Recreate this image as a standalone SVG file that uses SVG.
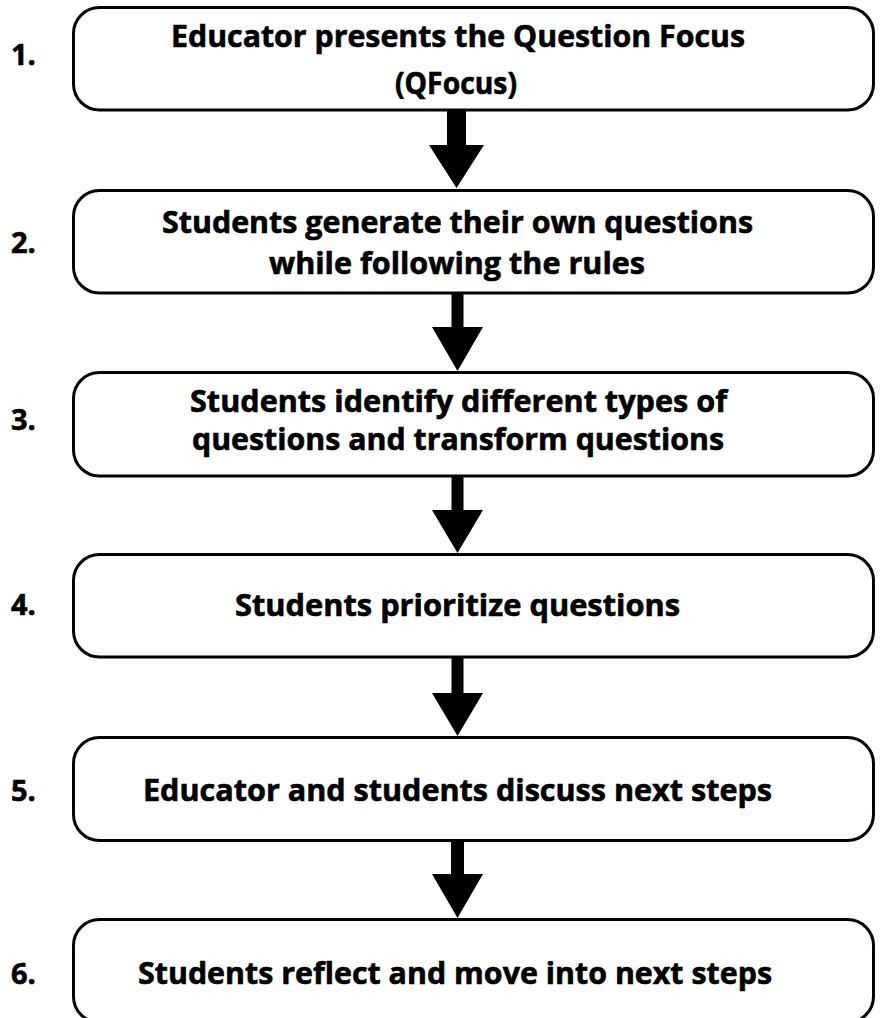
<svg xmlns="http://www.w3.org/2000/svg" width="880" height="1018" viewBox="0 0 880 1018">
  <style>
    .box { fill: #ffffff; stroke: #000000; stroke-width: 3; }
    .label { font-family: "Open Sans", "Liberation Sans", sans-serif; font-weight: 700; font-size: 29.5px; fill: #000000; stroke: #000000; stroke-width: 0.6; text-anchor: middle; }
    .num { font-family: "Open Sans", "Liberation Sans", sans-serif; font-weight: 700; font-size: 29px; fill: #000000; stroke: #000000; stroke-width: 0.6; }
    .arrow { fill: #000000; stroke: none; }
  </style>
  <rect x="0" y="0" width="880" height="1018" fill="#ffffff"/>

  <!-- connectors: thick block arrows between consecutive steps -->
  <g id="connectors">
    <polygon class="arrow" points="447,110 466,110 466,145 484,145 456.5,188 429,145 447,145"/>
    <polygon class="arrow" points="451.5,293 463.5,293 463.5,327 483,327 457.5,371 432,327 451.5,327"/>
    <polygon class="arrow" points="451.5,476 463.5,476 463.5,510 483,510 457.5,553 432,510 451.5,510"/>
    <polygon class="arrow" points="451.5,657 463.5,657 463.5,693 483,693 457.5,736 432,693 451.5,693"/>
    <polygon class="arrow" points="451,841 464,841 464,874 483,874 457.5,918 432,874 451,874"/>
  </g>

  <g id="step1">
    <rect class="box" x="73.5" y="7.5" width="800" height="102.5" rx="26" ry="26"/>
    <text class="num" x="11" y="65">1.</text>
    <text class="label" x="458" y="47" textLength="574" lengthAdjust="spacingAndGlyphs">Educator presents the Question Focus</text>
    <text class="label" x="456" y="94" textLength="122" lengthAdjust="spacingAndGlyphs">(QFocus)</text>
  </g>

  <g id="step2">
    <rect class="box" x="73.5" y="190.5" width="800" height="102.5" rx="26" ry="26"/>
    <text class="num" x="11" y="253">2.</text>
    <text class="label" x="457.5" y="233" textLength="591" lengthAdjust="spacingAndGlyphs">Students generate their own questions</text>
    <text class="label" x="457" y="274" textLength="376" lengthAdjust="spacingAndGlyphs">while following the rules</text>
  </g>

  <g id="step3">
    <rect class="box" x="73.5" y="372.5" width="800" height="103.5" rx="26" ry="26"/>
    <text class="num" x="11" y="430">3.</text>
    <text class="label" x="458.5" y="412" textLength="537" lengthAdjust="spacingAndGlyphs">Students identify different types of</text>
    <text class="label" x="458" y="450" textLength="532" lengthAdjust="spacingAndGlyphs">questions and transform questions</text>
  </g>

  <g id="step4">
    <rect class="box" x="73.5" y="554.5" width="800" height="102.5" rx="26" ry="26"/>
    <text class="num" x="11" y="615">4.</text>
    <text class="label" x="457.5" y="616" textLength="445" lengthAdjust="spacingAndGlyphs">Students prioritize questions</text>
  </g>

  <g id="step5">
    <rect class="box" x="73.5" y="737.5" width="800" height="103" rx="26" ry="26"/>
    <text class="num" x="11" y="801">5.</text>
    <text class="label" x="457.5" y="801" textLength="629" lengthAdjust="spacingAndGlyphs">Educator and students discuss next steps</text>
  </g>

  <g id="step6">
    <rect class="box" x="73.5" y="919.5" width="800" height="103" rx="26" ry="26"/>
    <text class="num" x="11" y="984">6.</text>
    <text class="label" x="455" y="984" textLength="634" lengthAdjust="spacingAndGlyphs">Students reflect and move into next steps</text>
  </g>
</svg>
